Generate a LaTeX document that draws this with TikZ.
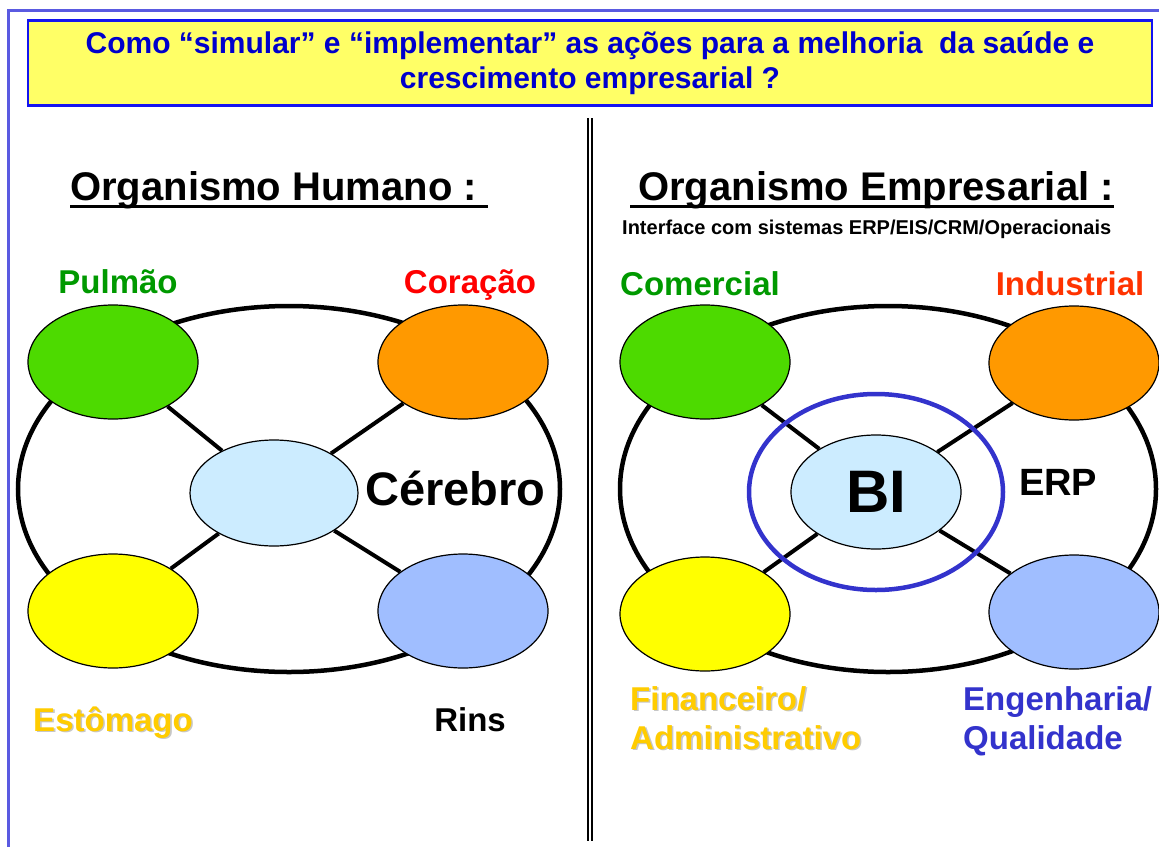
\documentclass[tikz,border=0pt]{standalone}
\usepackage{fontspec}
\setmainfont{Liberation Sans}
\usetikzlibrary{positioning, shapes.geometric}

\definecolor{verde}{RGB}{77,218,0}
\definecolor{verdeescuro}{RGB}{0,153,0}
\definecolor{laranja}{RGB}{255,153,0}
\definecolor{amarelo}{RGB}{255,255,0}
\definecolor{azulrim}{RGB}{160,190,255}
\definecolor{azulcerebro}{RGB}{204,236,255}
\definecolor{ouro}{RGB}{255,204,0}
\definecolor{anil}{RGB}{51,51,204}
\definecolor{tijolo}{RGB}{255,51,0}
\definecolor{fundopergunta}{RGB}{255,255,102}
\definecolor{textopergunta}{RGB}{0,0,204}
\definecolor{bordapergunta}{RGB}{20,20,240}
\definecolor{moldura}{RGB}{90,90,225}

\newcommand{\sombra}[1]{\makebox[0pt][l]{\hspace{1.6pt}\raisebox{-1.6pt}{\color{black!22}#1}}#1}

\tikzset{
  % orgaos e nucleos
  orgao/.style={draw, ellipse, line width=1.2pt, minimum width=170pt, minimum height=114pt, inner sep=0pt},
  nucleo/.style={draw, ellipse, line width=1.2pt, fill=azulcerebro, minimum width=168pt, minimum height=106pt, inner sep=0pt},
  anel/.style={line width=4.5pt},
  elo/.style={line width=4pt},
  rotulo/.style={font=\fontsize{33}{39}\selectfont\bfseries, inner sep=0pt, anchor=base},
  titulo/.style={font=\fontsize{40}{48}\selectfont\bfseries, inner sep=0pt, anchor=base west},
  sublinha/.style={line width=3pt}
}

\begin{document}
\begin{tikzpicture}[x=1pt, y=-1pt]
  \useasboundingbox (0,0) rectangle (1159,846);
  \clip (0,0) rectangle (1159,846);

  % moldura e pergunta
  \draw[moldura, line width=3pt] (8,10) rectangle (1200,900);
  \node[draw=bordapergunta, line width=2.5pt, fill=fundopergunta, text=textopergunta,
        minimum width=1124pt, minimum height=85pt, align=center, inner sep=0pt,
        font=\fontsize{30}{35}\selectfont\bfseries] (pergunta) at (590,63)
        {Como “simular” e “implementar” as ações para a melhoria\ \ da saúde e\\crescimento empresarial ?};
  \draw[line width=2pt, double distance=1.2pt] (590,118) -- (590,841);

  % organismo humano
  \node[titulo] (htitulo) at (70,200) {Organismo Humano :};
  \draw[sublinha] ([yshift=-6pt]htitulo.base west) -- ([xshift=11pt,yshift=-6pt]htitulo.base east);

  \draw[anel] (289,489) ellipse [x radius=271pt, y radius=183pt];
  \node[orgao, fill=verde] (pulmao) at (113,362) {};
  \node[orgao, fill=laranja] (coracao) at (463,362) {};
  \node[orgao, fill=amarelo] (estomago) at (113,611) {};
  \node[orgao, fill=azulrim] (rins) at (463,611) {};
  \node[nucleo] (cerebro) at (274,493) {};
  \foreach \o in {pulmao,coracao,estomago,rins}
    \draw[elo] (cerebro) -- (\o);

  \node[rotulo, text=verdeescuro] (lpulmao) at (118,293) {Pulmão};
  \node[rotulo, text=red] (lcoracao) at (470,293) {Coração};
  \node[rotulo, text=ouro] (lestomago) at (113,731) {\sombra{Estômago}};
  \node[rotulo] (lrins) at (470,731) {Rins};
  \node[rotulo, anchor=base west, font=\fontsize{47}{56}\selectfont\bfseries] (lcerebro) at (365,505) {Cérebro};

  % organismo empresarial
  \node[titulo] (etitulo) at (638,200) {Organismo Empresarial :};
  \draw[sublinha] ([xshift=-8pt,yshift=-6pt]etitulo.base west) -- ([yshift=-6pt]etitulo.base east);
  \node[titulo, font=\fontsize{20}{24}\selectfont\bfseries] (interface) at (622,234)
        {Interface com sistemas ERP/EIS/CRM/Operacionais};

  \draw[anel] (888,489) ellipse [x radius=268pt, y radius=183pt];
  \node[orgao, fill=verde] (comercial) at (705,362) {};
  \node[orgao, fill=laranja] (industrial) at (1074,363) {};
  \node[orgao, fill=amarelo] (financeiro) at (705,614) {};
  \node[orgao, fill=azulrim] (engenharia) at (1074,612) {};
  \node[nucleo, minimum width=170pt, minimum height=114pt, font=\fontsize{60}{70}\selectfont\bfseries] (bi) at (876,492) {BI};
  \foreach \o in {comercial,industrial,financeiro,engenharia}
    \draw[elo] (bi) -- (\o);
  \draw[anil, line width=4.5pt] (bi) ellipse [x radius=127pt, y radius=98pt];

  \node[rotulo, text=verdeescuro] (lcomercial) at (700,295) {Comercial};
  \node[rotulo, text=tijolo] (lindustrial) at (1070,295) {Industrial};
  \node[rotulo, anchor=base west, font=\fontsize{38}{44}\selectfont\bfseries] (lerp) at (1019,495) {ERP};
  \node[rotulo, anchor=north west, align=left, text=ouro] (lfinanceiro) at (630,686)
        {\sombra{Financeiro/}\\\sombra{Administrativo}};
  \node[rotulo, anchor=north west, align=left, text=anil] (lengenharia) at (963,686)
        {Engenharia/\\Qualidade};
\end{tikzpicture}
\end{document}
